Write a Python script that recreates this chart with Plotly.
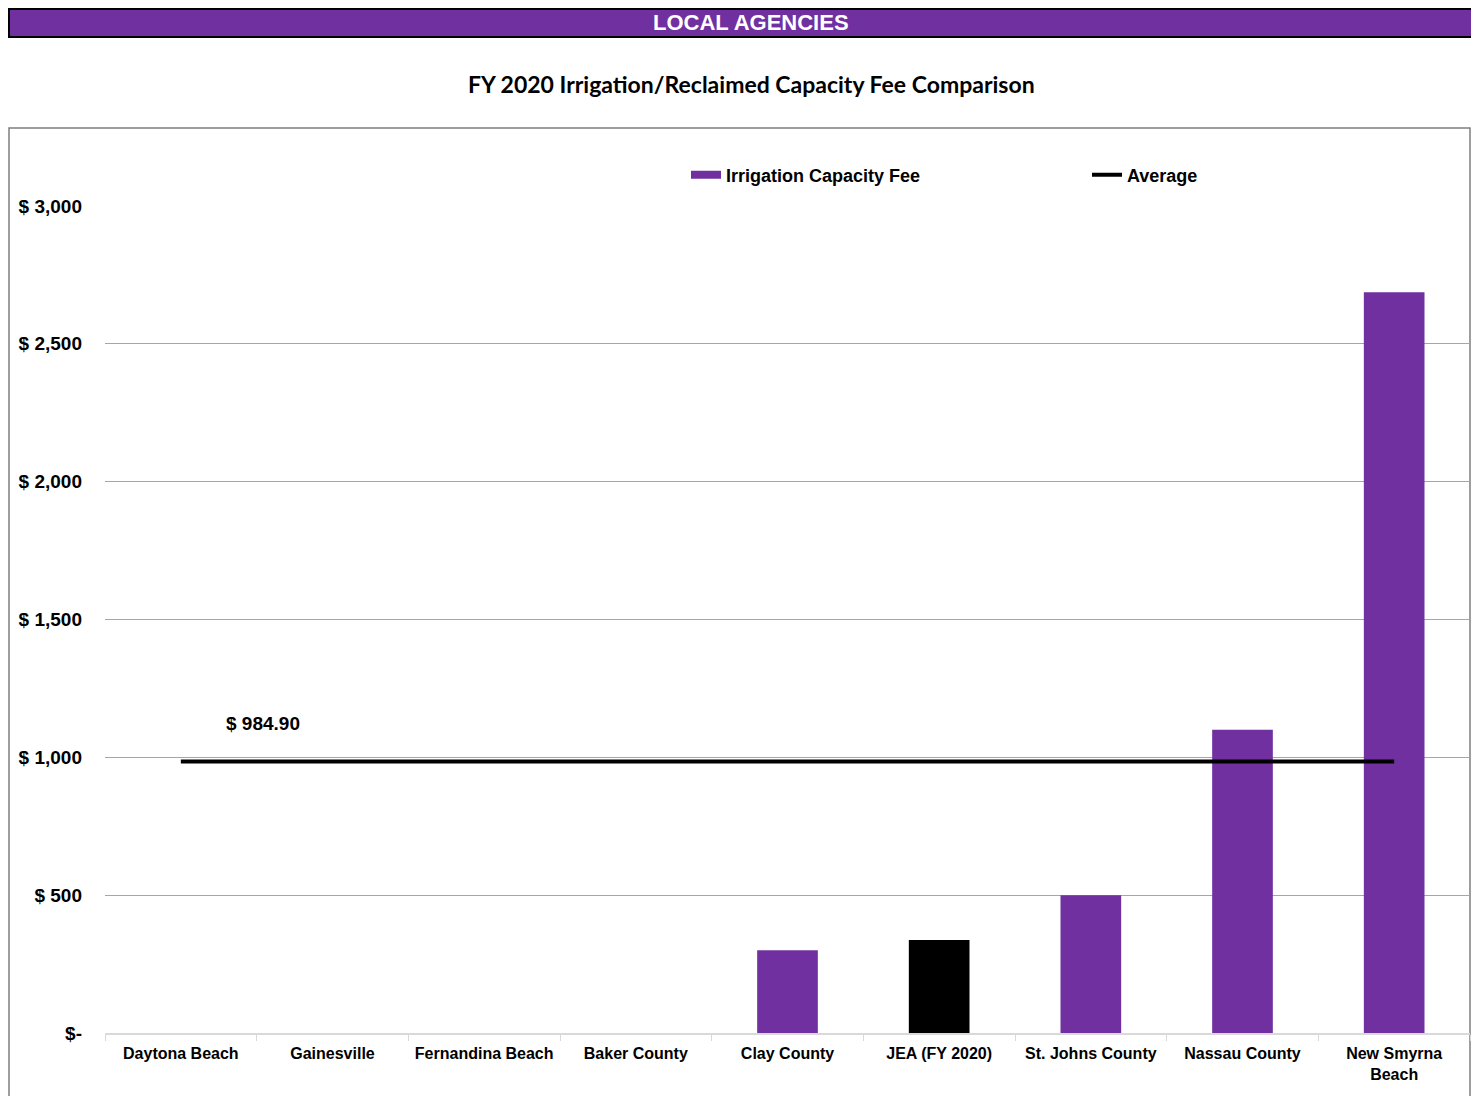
import plotly.graph_objects as go

# --- data ---
agencies = ['Daytona Beach', 'Gainesville', 'Fernandina Beach', 'Baker County',
            'Clay County', 'JEA (FY 2020)', 'St. Johns County', 'Nassau County',
            'New Smyrna<br>Beach']
fees = [0, 0, 0, 0, 300, 337, 500, 1100, 2687.5]
y_ticks = [0, 500, 1000, 1500, 2000, 2500, 3000]
y_tick_labels = ['$-', '$ 500', '$ 1,000', '$ 1,500', '$ 2,000', '$ 2,500', '$ 3,000']

PURPLE = '#7030A0'
bar_colors = ['black' if a.startswith('JEA') else PURPLE for a in agencies]

# average across agencies that actually charge a fee
charged = [f for f in fees if f > 0]
avg = sum(charged) / len(charged)

BOLD = dict(family='Liberation Sans, Arial', color='black', weight='bold')

fig = go.Figure()
fig.add_trace(go.Bar(x=agencies, y=fees, name='Irrigation Capacity Fee',
                     marker=dict(color=bar_colors, line=dict(width=0)),
                     showlegend=False))
# legend-only entry: thick purple line looks like the wide swatch in the original
fig.add_trace(go.Scatter(x=[None], y=[None], name='Irrigation Capacity Fee', mode='lines',
                         line=dict(color=PURPLE, width=8), legend='legend'))
fig.add_trace(go.Scatter(x=agencies, y=[avg] * len(agencies), name='Average',
                         mode='lines', line=dict(color='black', width=4), legend='legend2'))

# page body has an 8px margin, so the figure is a bit smaller and shifted
OFF = 8
W, H = 1479 - OFF, 1096 - OFF
L, R, T, B = 105 - OFF, 9, 206 - OFF, 63
pw, ph = W - L - R, H - T - B

def px_x(p):
    return (p - OFF - L) / pw

def px_y(p):
    return (H - B - (p - OFF)) / ph

fig.add_annotation(x=px_x(263), xref='paper', y=avg, yref='y', yshift=38,
                   xanchor='center', yanchor='middle',
                   text=f'$ {avg:,.2f}', showarrow=False, font=dict(BOLD, size=19))

# outer chart frame
fig.add_shape(type='rect', xref='paper', yref='paper',
              x0=px_x(9), x1=px_x(1470), y0=px_y(1110), y1=px_y(128),
              line=dict(color='#7f7f7f', width=1.5), fillcolor='rgba(0,0,0,0)', layer='below')
# header bar
fig.add_shape(type='rect', xref='paper', yref='paper',
              x0=px_x(9), x1=px_x(1485), y0=px_y(37), y1=px_y(9),
              line=dict(color='black', width=2), fillcolor=PURPLE)
fig.add_annotation(x=px_x(751), y=px_y(22), xref='paper', yref='paper',
                   xanchor='center', yanchor='middle',
                   text='LOCAL AGENCIES', showarrow=False,
                   font=dict(BOLD, size=22, color='white'))
fig.add_annotation(x=px_x(751), y=px_y(84), xref='paper', yref='paper',
                   xanchor='center', yanchor='middle',
                   text='FY 2020 Irrigation/Reclaimed Capacity Fee Comparison', showarrow=False,
                   font=dict(family='Lato, Open Sans', size=23, color='black', weight='bold'))

legend_font = dict(BOLD, size=18)
fig.update_layout(
    width=W, height=H,
    margin=dict(l=L, r=R, t=T, b=B, autoexpand=False),
    paper_bgcolor='white', plot_bgcolor='white',
    bargap=0.6,
    font=dict(BOLD, size=16),
    legend=dict(orientation='h', x=px_x(686), y=px_y(175), xanchor='left', yanchor='middle',
                itemwidth=30, bgcolor='rgba(0,0,0,0)', font=legend_font),
    legend2=dict(orientation='h', x=px_x(1087), y=px_y(175), xanchor='left', yanchor='middle',
                 itemwidth=30, bgcolor='rgba(0,0,0,0)', font=legend_font),
    xaxis=dict(showline=True, linecolor='#d9d9d9', linewidth=2,
               ticks='outside', tickson='boundaries', ticklen=6, tickcolor='#d9d9d9',
               ticklabelstandoff=5,
               showgrid=False, tickangle=0, fixedrange=True),
    yaxis=dict(range=[0, 3000], tickvals=y_ticks, ticktext=y_tick_labels,
               tickfont=dict(BOLD, size=19),
               showgrid=True, gridcolor='#a6a6a6', gridwidth=1, zeroline=False,
               ticklabelstandoff=22, ticks='', fixedrange=True),
)

fig.write_html('out.html')
